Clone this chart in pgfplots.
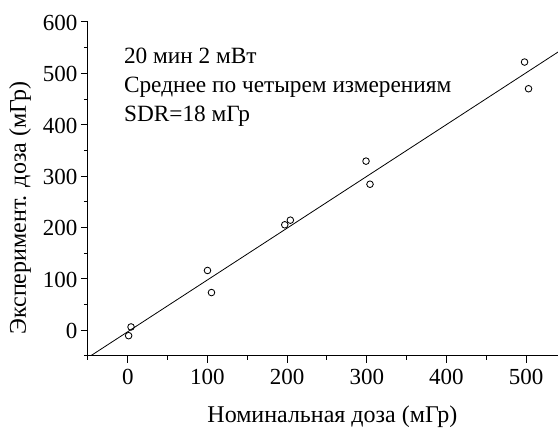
\documentclass[border=0pt]{standalone}
\usepackage{fontspec}
\setmainfont{Liberation Serif}
\usepackage{pgfplots}
\pgfplotsset{compat=1.18}
\usetikzlibrary{calc}
\begin{document}
\begin{tikzpicture}
\begin{axis}[
  name=ax,
  scale only axis,
  width=470pt, height=333.7pt,
  xmin=-50, xmax=540, ymin=-50, ymax=600,
  axis lines=left,
  axis line style={-, line width=1pt},
  tick align=outside,
  major tick length=7pt,
  minor tick length=4pt,
  every tick/.style={black, line width=1pt},
  xtick={0,100,200,300,400,500},
  ytick={0,100,200,300,400,500,600},
  minor xtick={-50,50,150,250,350,450},
  minor ytick={-50,50,150,250,350,450,550},
  /pgf/number format/assume math mode=true,
  tick label style={font=\fontsize{23}{26}\selectfont},
  xticklabel style={yshift=-3pt},
  yticklabel style={yshift=-1pt},
  label style={font=\fontsize{24}{27}\selectfont},
  xlabel={Номинальная доза (мГр)},
  ylabel={Эксперимент. доза (мГр)},
  xlabel style={at={(rel axis cs:0.52,0)}, anchor=base, yshift=-67pt},
  ylabel style={at={(rel axis cs:0,0.443)}, anchor=base, yshift=62pt},
  clip=true,
]
\addplot[only marks, mark=o, mark size=3.3pt, mark options={line width=0.85pt}] coordinates {
 (1,-11) (4,6) (100,116) (105,73) (197,205) (204,214) (299,329) (304,284) (498,522) (503,470)
};
\addplot[black, line width=0.8pt] coordinates {(-46.4,-50) (545,546.5)};
\node[anchor=base west, inner sep=0pt, font=\fontsize{23.3}{26}\selectfont] at (axis cs:-5,520) {20 мин 2 мВт};
\node[anchor=base west, inner sep=0pt, font=\fontsize{23.3}{26}\selectfont] at (axis cs:-5,463.5) {Среднее по четырем измерениям};
\node[anchor=base west, inner sep=0pt, font=\fontsize{23.3}{26}\selectfont] at (axis cs:-5,407) {SDR=18 мГр};
\end{axis}
\pgfresetboundingbox
\path[use as bounding box] ($(ax.south west)+(-88pt,-73pt)$) rectangle ($(ax.north east)+(0pt,22pt)$);
\end{tikzpicture}
\end{document}
